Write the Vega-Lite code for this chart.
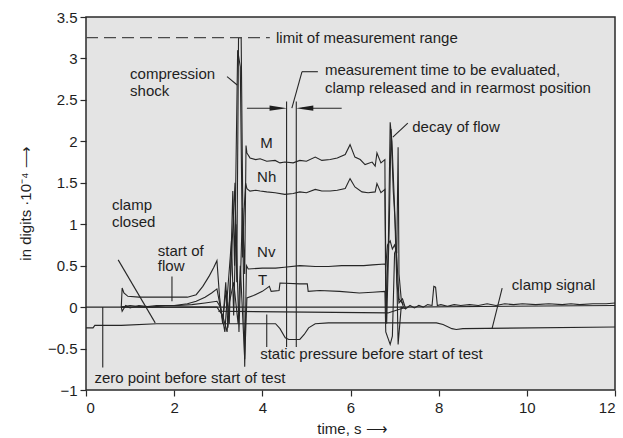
{
  "$schema": "https://vega.github.io/schema/vega-lite/v6.json",
  "width": 529,
  "height": 373,
  "autosize": "none",
  "padding": {"left": 86, "top": 17, "right": 8, "bottom": 48},
  "background": "white",
  "config": {
    "view": {"fill": "#e4e4e4", "stroke": "#2a2a2a", "strokeWidth": 1.5},
    "font": "Liberation Sans",
    "axis": {"labelFont": "Liberation Sans", "titleFont": "Liberation Sans", "labelFontSize": 15, "titleFontSize": 15, "labelColor": "#1e1e1e", "titleColor": "#1e1e1e", "titleFontWeight": "normal", "tickColor": "#2a2a2a", "domain": false, "grid": false, "tickSize": 6, "tickWidth": 1.2}
  },
  "datasets": {
    "traces": [
      {"s": "base", "t": 0, "v": 0}, {"s": "base", "t": 3.0, "v": 0}, {"s": "base", "t": 7.2, "v": 0.0}, {"s": "base", "t": 12, "v": 0.02},

      {"s": "M", "t": 0.8, "v": 0}, {"s": "M", "t": 0.82, "v": 0.23}, {"s": "M", "t": 0.86, "v": 0.17}, {"s": "M", "t": 0.95, "v": 0.13},
      {"s": "M", "t": 1.2, "v": 0.12}, {"s": "M", "t": 1.6, "v": 0.12}, {"s": "M", "t": 2.0, "v": 0.12}, {"s": "M", "t": 2.3, "v": 0.12},
      {"s": "M", "t": 2.5, "v": 0.15}, {"s": "M", "t": 2.65, "v": 0.25}, {"s": "M", "t": 2.8, "v": 0.38}, {"s": "M", "t": 2.9, "v": 0.48},
      {"s": "M", "t": 2.97, "v": 0.56}, {"s": "M", "t": 3.03, "v": 0.12}, {"s": "M", "t": 3.1, "v": -0.2}, {"s": "M", "t": 3.17, "v": 0.3},
      {"s": "M", "t": 3.22, "v": -0.25}, {"s": "M", "t": 3.3, "v": 0.6}, {"s": "M", "t": 3.38, "v": 1.5}, {"s": "M", "t": 3.42, "v": 0.3},
      {"s": "M", "t": 3.46, "v": 3.25}, {"s": "M", "t": 3.52, "v": 3.25}, {"s": "M", "t": 3.56, "v": 1.0}, {"s": "M", "t": 3.6, "v": 0.4},
      {"s": "M", "t": 3.63, "v": 1.95}, {"s": "M", "t": 3.65, "v": 1.86}, {"s": "M", "t": 3.72, "v": 1.8}, {"s": "M", "t": 3.85, "v": 1.78},
      {"s": "M", "t": 3.95, "v": 1.79}, {"s": "M", "t": 4.1, "v": 1.76}, {"s": "M", "t": 4.29, "v": 1.77}, {"s": "M", "t": 4.4, "v": 1.74},
      {"s": "M", "t": 4.51, "v": 1.75}, {"s": "M", "t": 4.7, "v": 1.74}, {"s": "M", "t": 4.85, "v": 1.77}, {"s": "M", "t": 5.0, "v": 1.76},
      {"s": "M", "t": 5.2, "v": 1.81}, {"s": "M", "t": 5.35, "v": 1.77}, {"s": "M", "t": 5.54, "v": 1.78}, {"s": "M", "t": 5.7, "v": 1.8},
      {"s": "M", "t": 5.88, "v": 1.84}, {"s": "M", "t": 5.99, "v": 1.96}, {"s": "M", "t": 6.1, "v": 1.81}, {"s": "M", "t": 6.22, "v": 1.78},
      {"s": "M", "t": 6.33, "v": 1.72}, {"s": "M", "t": 6.49, "v": 1.75}, {"s": "M", "t": 6.56, "v": 1.7}, {"s": "M", "t": 6.6, "v": 1.86},
      {"s": "M", "t": 6.69, "v": 1.74}, {"s": "M", "t": 6.78, "v": 1.78}, {"s": "M", "t": 6.8, "v": -0.15}, {"s": "M", "t": 6.86, "v": 0.8},
      {"s": "M", "t": 6.9, "v": 2.23}, {"s": "M", "t": 6.94, "v": 2.0}, {"s": "M", "t": 7.0, "v": 1.2}, {"s": "M", "t": 7.05, "v": 0.3},
      {"s": "M", "t": 7.1, "v": 0.05}, {"s": "M", "t": 7.18, "v": 0.1}, {"s": "M", "t": 7.25, "v": -0.02}, {"s": "M", "t": 7.35, "v": 0.02},
      {"s": "M", "t": 7.45, "v": -0.01}, {"s": "M", "t": 7.55, "v": 0.02}, {"s": "M", "t": 7.65, "v": 0.0}, {"s": "M", "t": 7.75, "v": 0.03},
      {"s": "M", "t": 7.85, "v": 0.02}, {"s": "M", "t": 7.89, "v": 0.25}, {"s": "M", "t": 7.93, "v": 0.24}, {"s": "M", "t": 7.97, "v": 0.02},
      {"s": "M", "t": 8.05, "v": 0.03}, {"s": "M", "t": 8.2, "v": 0.01}, {"s": "M", "t": 8.35, "v": 0.03}, {"s": "M", "t": 8.5, "v": 0.02},
      {"s": "M", "t": 8.7, "v": 0.03}, {"s": "M", "t": 8.9, "v": 0.02}, {"s": "M", "t": 9.1, "v": 0.04}, {"s": "M", "t": 9.3, "v": 0.02},
      {"s": "M", "t": 9.5, "v": 0.04}, {"s": "M", "t": 9.7, "v": 0.03}, {"s": "M", "t": 9.9, "v": 0.04}, {"s": "M", "t": 10.2, "v": 0.03},
      {"s": "M", "t": 10.5, "v": 0.04}, {"s": "M", "t": 10.8, "v": 0.03}, {"s": "M", "t": 11.0, "v": 0.04}, {"s": "M", "t": 11.2, "v": 0.03},
      {"s": "M", "t": 11.5, "v": 0.04}, {"s": "M", "t": 11.8, "v": 0.04}, {"s": "M", "t": 12, "v": 0.05},

      {"s": "Nh", "t": 0.8, "v": 0}, {"s": "Nh", "t": 1.0, "v": 0.02}, {"s": "Nh", "t": 1.3, "v": 0.0}, {"s": "Nh", "t": 1.6, "v": 0.02},
      {"s": "Nh", "t": 2.0, "v": 0.02}, {"s": "Nh", "t": 2.3, "v": 0.04}, {"s": "Nh", "t": 2.5, "v": 0.07}, {"s": "Nh", "t": 2.7, "v": 0.12},
      {"s": "Nh", "t": 2.85, "v": 0.17}, {"s": "Nh", "t": 2.97, "v": 0.22}, {"s": "Nh", "t": 3.03, "v": 0.05}, {"s": "Nh", "t": 3.1, "v": -0.15},
      {"s": "Nh", "t": 3.18, "v": 0.2}, {"s": "Nh", "t": 3.25, "v": -0.2}, {"s": "Nh", "t": 3.33, "v": 1.4}, {"s": "Nh", "t": 3.37, "v": 0.5},
      {"s": "Nh", "t": 3.44, "v": 3.1}, {"s": "Nh", "t": 3.5, "v": 2.9}, {"s": "Nh", "t": 3.55, "v": 0.6}, {"s": "Nh", "t": 3.58, "v": 1.1},
      {"s": "Nh", "t": 3.62, "v": 1.5}, {"s": "Nh", "t": 3.65, "v": 1.43}, {"s": "Nh", "t": 3.72, "v": 1.4}, {"s": "Nh", "t": 3.85, "v": 1.41},
      {"s": "Nh", "t": 3.95, "v": 1.4}, {"s": "Nh", "t": 4.1, "v": 1.39}, {"s": "Nh", "t": 4.29, "v": 1.38}, {"s": "Nh", "t": 4.51, "v": 1.36},
      {"s": "Nh", "t": 4.7, "v": 1.37}, {"s": "Nh", "t": 4.85, "v": 1.39}, {"s": "Nh", "t": 5.0, "v": 1.38}, {"s": "Nh", "t": 5.2, "v": 1.42},
      {"s": "Nh", "t": 5.35, "v": 1.4}, {"s": "Nh", "t": 5.54, "v": 1.4}, {"s": "Nh", "t": 5.7, "v": 1.41}, {"s": "Nh", "t": 5.88, "v": 1.43},
      {"s": "Nh", "t": 5.99, "v": 1.55}, {"s": "Nh", "t": 6.1, "v": 1.45}, {"s": "Nh", "t": 6.26, "v": 1.39}, {"s": "Nh", "t": 6.4, "v": 1.38},
      {"s": "Nh", "t": 6.56, "v": 1.39}, {"s": "Nh", "t": 6.6, "v": 1.49}, {"s": "Nh", "t": 6.69, "v": 1.38}, {"s": "Nh", "t": 6.78, "v": 1.42},
      {"s": "Nh", "t": 6.82, "v": -0.2}, {"s": "Nh", "t": 6.88, "v": 1.0}, {"s": "Nh", "t": 6.92, "v": 2.15}, {"s": "Nh", "t": 6.97, "v": 1.4},
      {"s": "Nh", "t": 7.01, "v": 1.05}, {"s": "Nh", "t": 7.05, "v": 0.6}, {"s": "Nh", "t": 7.1, "v": 0.1}, {"s": "Nh", "t": 7.2, "v": 0.03},

      {"s": "Nv", "t": 0.8, "v": 0}, {"s": "Nv", "t": 0.82, "v": -0.05}, {"s": "Nv", "t": 0.9, "v": 0.02}, {"s": "Nv", "t": 1.0, "v": -0.01},
      {"s": "Nv", "t": 1.2, "v": 0.02}, {"s": "Nv", "t": 1.5, "v": 0.0}, {"s": "Nv", "t": 1.8, "v": 0.02}, {"s": "Nv", "t": 2.1, "v": 0.02},
      {"s": "Nv", "t": 2.4, "v": 0.03}, {"s": "Nv", "t": 2.7, "v": 0.05}, {"s": "Nv", "t": 2.97, "v": 0.07}, {"s": "Nv", "t": 3.05, "v": 0.0},
      {"s": "Nv", "t": 3.15, "v": -0.3}, {"s": "Nv", "t": 3.2, "v": 0.1}, {"s": "Nv", "t": 3.3, "v": 0.8}, {"s": "Nv", "t": 3.35, "v": -0.1},
      {"s": "Nv", "t": 3.4, "v": 1.0}, {"s": "Nv", "t": 3.47, "v": -0.3}, {"s": "Nv", "t": 3.55, "v": 1.2}, {"s": "Nv", "t": 3.6, "v": -0.72},
      {"s": "Nv", "t": 3.64, "v": 0.5}, {"s": "Nv", "t": 3.68, "v": 0.46}, {"s": "Nv", "t": 4.0, "v": 0.47}, {"s": "Nv", "t": 4.3, "v": 0.47},
      {"s": "Nv", "t": 4.5, "v": 0.48}, {"s": "Nv", "t": 4.85, "v": 0.5}, {"s": "Nv", "t": 5.2, "v": 0.49}, {"s": "Nv", "t": 5.5, "v": 0.49},
      {"s": "Nv", "t": 5.8, "v": 0.5}, {"s": "Nv", "t": 6.0, "v": 0.5}, {"s": "Nv", "t": 6.3, "v": 0.5}, {"s": "Nv", "t": 6.5, "v": 0.51},
      {"s": "Nv", "t": 6.78, "v": 0.52}, {"s": "Nv", "t": 6.8, "v": 0.5}, {"s": "Nv", "t": 6.84, "v": 0.75}, {"s": "Nv", "t": 6.9, "v": 0.8},
      {"s": "Nv", "t": 6.95, "v": 0.7}, {"s": "Nv", "t": 7.0, "v": 0.75}, {"s": "Nv", "t": 7.05, "v": 0.65}, {"s": "Nv", "t": 7.08, "v": 1.93},
      {"s": "Nv", "t": 7.1, "v": 0.4}, {"s": "Nv", "t": 7.15, "v": 0.1}, {"s": "Nv", "t": 7.2, "v": 0.0},

      {"s": "T", "t": 0.8, "v": 0}, {"s": "T", "t": 1.5, "v": 0.0}, {"s": "T", "t": 2.5, "v": 0.0}, {"s": "T", "t": 2.97, "v": 0.0},
      {"s": "T", "t": 3.1, "v": -0.1}, {"s": "T", "t": 3.2, "v": -0.3}, {"s": "T", "t": 3.25, "v": 0.05}, {"s": "T", "t": 3.35, "v": 0.3},
      {"s": "T", "t": 3.45, "v": -0.2}, {"s": "T", "t": 3.5, "v": 0.5}, {"s": "T", "t": 3.6, "v": -0.63}, {"s": "T", "t": 3.65, "v": 0.11},
      {"s": "T", "t": 3.8, "v": 0.14}, {"s": "T", "t": 4.0, "v": 0.19}, {"s": "T", "t": 4.16, "v": 0.25}, {"s": "T", "t": 4.2, "v": 0.19},
      {"s": "T", "t": 4.38, "v": 0.2}, {"s": "T", "t": 4.4, "v": 0.29}, {"s": "T", "t": 4.85, "v": 0.28}, {"s": "T", "t": 5.02, "v": 0.28},
      {"s": "T", "t": 5.04, "v": 0.19}, {"s": "T", "t": 5.3, "v": 0.2}, {"s": "T", "t": 5.75, "v": 0.19}, {"s": "T", "t": 6.2, "v": 0.17},
      {"s": "T", "t": 6.5, "v": 0.18}, {"s": "T", "t": 6.78, "v": 0.19}, {"s": "T", "t": 6.8, "v": -0.3}, {"s": "T", "t": 6.9, "v": -0.45},
      {"s": "T", "t": 6.95, "v": -0.35}, {"s": "T", "t": 7.0, "v": 0.65}, {"s": "T", "t": 7.04, "v": 0.7}, {"s": "T", "t": 7.08, "v": -0.45},
      {"s": "T", "t": 7.15, "v": 0.0}, {"s": "T", "t": 7.25, "v": -0.02},

      {"s": "static", "t": 3.0, "v": -0.05}, {"s": "static", "t": 6.85, "v": -0.07}, {"s": "static", "t": 7.2, "v": -0.01},

      {"s": "clamp", "t": 0, "v": -0.25}, {"s": "clamp", "t": 0.16, "v": -0.25}, {"s": "clamp", "t": 0.2, "v": -0.22}, {"s": "clamp", "t": 0.8, "v": -0.22},
      {"s": "clamp", "t": 1.6, "v": -0.2}, {"s": "clamp", "t": 4.3, "v": -0.2}, {"s": "clamp", "t": 4.4, "v": -0.26}, {"s": "clamp", "t": 4.52, "v": -0.37},
      {"s": "clamp", "t": 4.6, "v": -0.39}, {"s": "clamp", "t": 4.85, "v": -0.39}, {"s": "clamp", "t": 4.95, "v": -0.33}, {"s": "clamp", "t": 5.05, "v": -0.25},
      {"s": "clamp", "t": 5.2, "v": -0.2}, {"s": "clamp", "t": 5.5, "v": -0.19}, {"s": "clamp", "t": 7.95, "v": -0.19}, {"s": "clamp", "t": 8.1, "v": -0.21},
      {"s": "clamp", "t": 8.3, "v": -0.26}, {"s": "clamp", "t": 8.4, "v": -0.27}, {"s": "clamp", "t": 8.55, "v": -0.26}, {"s": "clamp", "t": 12, "v": -0.24}
    ],
    "segments": [
      {"x": 5.26, "y": 2.84, "x2": 4.9, "y2": 2.84},
      {"x": 4.9, "y": 2.84, "x2": 4.67, "y2": 2.4},
      {"x": 3.2, "y": 2.78, "x2": 3.43, "y2": 2.68},
      {"x": 7.3, "y": 2.22, "x2": 6.96, "y2": 2.05},
      {"x": 0.73, "y": 0.57, "x2": 1.57, "y2": -0.19},
      {"x": 1.95, "y": 0.37, "x2": 1.95, "y2": 0.07},
      {"x": 4.1, "y": -0.09, "x2": 4.1, "y2": -0.48},
      {"x": 0.38, "y": 0.0, "x2": 0.38, "y2": -0.73},
      {"x": 9.44, "y": 0.23, "x2": 9.21, "y2": -0.26},
      {"x": 4.55, "y": 2.48, "x2": 4.55, "y2": -0.48},
      {"x": 4.77, "y": 2.48, "x2": 4.77, "y2": -0.48},
      {"x": 3.65, "y": 2.4, "x2": 4.4, "y2": 2.4},
      {"x": 4.9, "y": 2.4, "x2": 5.8, "y2": 2.4}
    ],
    "limit": [{"x": 0, "y": 3.25, "x2": 4.17}],
    "heads": [{"x": 4.36, "y": 2.4, "dir": "r"}, {"x": 4.96, "y": 2.4, "dir": "l"}],
    "labels": [
      {"x": 4.31, "y": 3.25, "text": "limit of measurement range"},
      {"x": 5.42, "y": 2.86, "text": "measurement time to be evaluated,"},
      {"x": 5.42, "y": 2.64, "text": "clamp released and in rearmost position"},
      {"x": 1.0, "y": 2.81, "text": "compression"},
      {"x": 1.0, "y": 2.61, "text": "shock"},
      {"x": 7.4, "y": 2.17, "text": "decay of flow"},
      {"x": 3.95, "y": 1.98, "text": "M"},
      {"x": 3.88, "y": 1.57, "text": "Nh"},
      {"x": 3.88, "y": 0.66, "text": "Nv"},
      {"x": 3.9, "y": 0.33, "text": "T"},
      {"x": 0.59, "y": 1.23, "text": "clamp"},
      {"x": 0.59, "y": 1.03, "text": "closed"},
      {"x": 1.63, "y": 0.68, "text": "start of"},
      {"x": 1.63, "y": 0.49, "text": "flow"},
      {"x": 9.66, "y": 0.27, "text": "clamp signal"},
      {"x": 3.95, "y": -0.57, "text": "static pressure before start of test"},
      {"x": 0.19, "y": -0.85, "text": "zero point before start of test"}
    ]
  },
  "layer": [
    {
      "data": {"name": "traces"},
      "mark": {"type": "line", "color": "#262626", "strokeWidth": 1.1, "strokeJoin": "miter"},
      "encoding": {
        "x": {"field": "t", "type": "quantitative", "scale": {"domain": [0, 12], "nice": false, "zero": false},
          "axis": {"values": [0, 2, 4, 6, 8, 10, 12], "title": "time, s ⟶", "titleX": 266, "titleY": 38, "titleAnchor": null, "titleBaseline": "middle", "labelPadding": 4}},
        "y": {"field": "v", "type": "quantitative", "scale": {"domain": [-1, 3.5], "nice": false, "zero": false},
          "axis": {"values": [-1, -0.5, 0, 0.5, 1, 1.5, 2, 2.5, 3, 3.5], "labelExpr": "datum.value < 0 ? '−' + toString(-datum.value) : toString(datum.value)", "title": "in digits ·10⁻⁴ ⟶", "titleX": -61, "titleY": 186, "titleAngle": -90, "titleAlign": "center", "titleBaseline": "middle", "labelPadding": 3}},
        "detail": {"field": "s"}
      }
    },
    {
      "data": {"name": "limit"},
      "mark": {"type": "rule", "color": "#4a4a4a", "strokeWidth": 1.3, "strokeDash": [12, 6]},
      "encoding": {"x": {"field": "x", "type": "quantitative"}, "x2": {"field": "x2"}, "y": {"field": "y", "type": "quantitative"}}
    },
    {
      "data": {"name": "segments"},
      "mark": {"type": "rule", "color": "#262626", "strokeWidth": 1.1},
      "encoding": {"x": {"field": "x", "type": "quantitative"}, "x2": {"field": "x2"}, "y": {"field": "y", "type": "quantitative"}, "y2": {"field": "y2"}}
    },
    {
      "data": {"name": "heads"},
      "mark": {"type": "point", "filled": true, "color": "#1e1e1e", "size": 300, "opacity": 1},
      "encoding": {
        "x": {"field": "x", "type": "quantitative"},
        "y": {"field": "y", "type": "quantitative"},
        "shape": {"field": "dir", "type": "nominal", "scale": {"domain": ["r", "l"], "range": ["M-1,-0.3L1,0L-1,0.3Z", "M1,-0.3L-1,0L1,0.3Z"]}, "legend": null}
      }
    },
    {
      "data": {"name": "labels"},
      "mark": {"type": "text", "align": "left", "baseline": "middle", "font": "Liberation Sans", "fontSize": 15, "color": "#1e1e1e"},
      "encoding": {"x": {"field": "x", "type": "quantitative"}, "y": {"field": "y", "type": "quantitative"}, "text": {"field": "text"}}
    }
  ]
}
